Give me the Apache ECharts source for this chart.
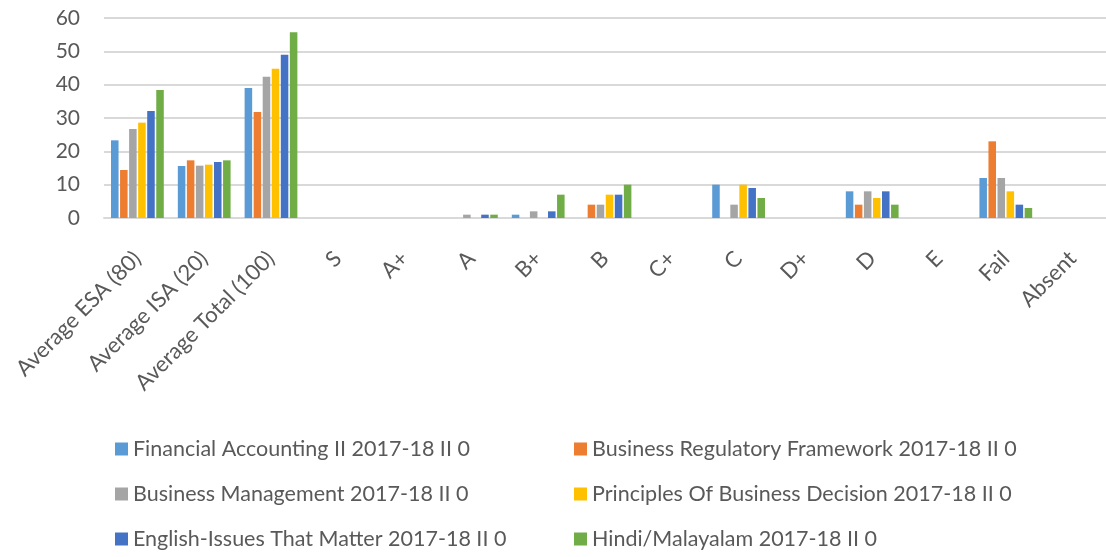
<!DOCTYPE html>
<html>
<head>
<meta charset="utf-8">
<script src="https://cdn.jsdelivr.net/npm/echarts@6/dist/echarts.min.js"></script>
<style>
  html, body { margin: 0; padding: 0; background: #fff; }
  #chart { width: 1106px; height: 557px; }
</style>
</head>
<body>
<div id="chart"></div>
<script>
const categories = ['Average ESA (80)', 'Average ISA (20)', 'Average Total (100)', 'S', 'A+', 'A', 'B+', 'B', 'C+', 'C', 'D+', 'D', 'E', 'Fail', 'Absent']
const seriesNames = [
  'Financial Accounting II 2017-18 II 0',
  'Business Regulatory Framework 2017-18 II 0',
  'Business Management 2017-18 II 0',
  'Principles Of Business Decision 2017-18 II 0',
  'English-Issues That Matter 2017-18 II 0',
  'Hindi/Malayalam 2017-18 II 0',
]
const financialAccounting = [23.3, 15.6, 39.0, 0, 0, 0, 1, 0, 0, 10, 0, 8, 0, 12, 0]
const businessRegulatory = [14.4, 17.3, 31.8, 0, 0, 0, 0, 4, 0, 0, 0, 4, 0, 23, 0]
const businessManagement = [26.7, 15.7, 42.4, 0, 0, 1, 2, 4, 0, 4, 0, 8, 0, 12, 0]
const principlesDecision = [28.6, 16.0, 44.8, 0, 0, 0, 0, 7, 0, 10, 0, 6, 0, 8, 0]
const englishIssues = [32.1, 16.8, 49.0, 0, 0, 1, 2, 7, 0, 9, 0, 8, 0, 4, 0]
const hindiMalayalam = [38.4, 17.3, 55.7, 0, 0, 1, 7, 10, 0, 6, 0, 4, 0, 3, 0]
const yTicks = [0, 10, 20, 30, 40, 50, 60]

const colors = ['#5B9BD5', '#ED7D31', '#A5A5A5', '#FFC000', '#4472C4', '#70AD47']
const allValues = [financialAccounting, businessRegulatory, businessManagement, principlesDecision, englishIssues, hindiMalayalam]

const chart = echarts.init(document.getElementById('chart'))

const legendText = {
  color: '#595959',
  fontFamily: 'Lato',
  fontSize: 21.5,
  lineHeight: 22,
}

const option = {
  animation: false,
  color: colors,
  grid: {
    left: 104,
    right: 0,
    top: 18,
    bottom: 339,
  },
  legend: [
    {
      data: [seriesNames[0], seriesNames[2], seriesNames[4]],
      orient: 'vertical',
      left: 115,
      top: 438,
      padding: 0,
      itemWidth: 13,
      itemHeight: 13,
      itemGap: 23,
      icon: 'rect',
      textStyle: legendText,
    },
    {
      data: [seriesNames[1], seriesNames[3], seriesNames[5]],
      orient: 'vertical',
      left: 574,
      top: 438,
      padding: 0,
      itemWidth: 13,
      itemHeight: 13,
      itemGap: 23,
      icon: 'rect',
      textStyle: legendText,
    },
  ],
  xAxis: {
    type: 'category',
    data: categories,
    axisLine: { lineStyle: { color: '#d9d9d9', width: 2 } },
    axisTick: { show: false },
    axisLabel: {
      interval: 0,
      rotate: 45,
      margin: 37,
      color: '#595959',
      fontFamily: 'Lato',
      fontSize: 22,
    },
  },
  yAxis: {
    type: 'value',
    min: yTicks[0],
    max: yTicks[yTicks.length - 1],
    interval: 10,
    axisLine: { show: false },
    axisTick: { show: false },
    axisLabel: {
      margin: 24,
      color: '#595959',
      fontFamily: 'Lato',
      fontSize: 21,
    },
    splitLine: { lineStyle: { color: '#d9d9d9', width: 2 } },
  },
  series: seriesNames.map((name, i) => ({
    name,
    type: 'bar',
    data: allValues[i],
    barGap: '20%',
    barCategoryGap: '21%',
    itemStyle: { color: colors[i] },
  })),
}

chart.setOption(option)
</script>
</body>
</html>
